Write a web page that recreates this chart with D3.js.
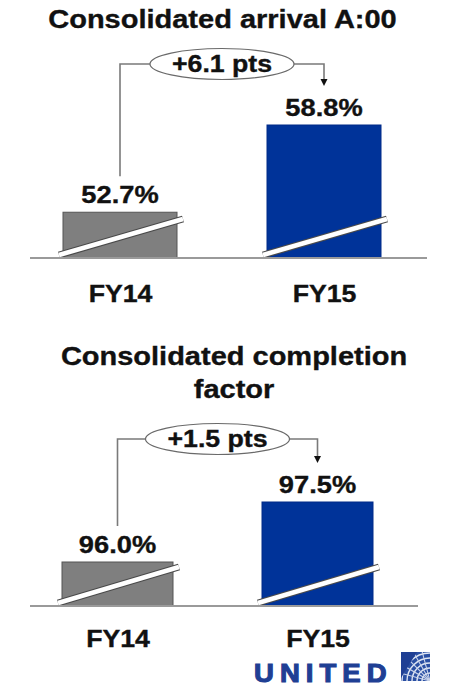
<!DOCTYPE html>
<html>
<head>
<meta charset="utf-8">
<script src="https://cdn.jsdelivr.net/npm/d3@7"></script>
<style>
  html, body { margin: 0; padding: 0; background: #ffffff; }
  svg { display: block; }
  text { font-family: "Liberation Sans", Arial, Helvetica, sans-serif; font-weight: bold; fill: #111; }
</style>
</head>
<body>
<div id="chart"></div>
<script>
// Fiscal years shown in both panels
const years = ["FY14", "FY15"];
// Consolidated arrival A:00 (%)
const arrivalValues = [52.7, 58.8];
// Consolidated completion factor (%)
const completionValues = [96.0, 97.5];
// Panel titles (one entry per line)
const arrivalTitle = ["Consolidated arrival A:00"];
const completionTitle = ["Consolidated completion", "factor"];

const W = 454, H = 700;
const STRETCH = 1.16;               // wide-set lettering
const barColors = ["#7f7f7f", "#003399"];
const barStrokes = ["#555555", "#002a88"];
const fmtPct = v => d3.format(".1f")(v) + "%";
const fmtDelta = v => (v >= 0 ? "+" : "") + d3.format(".1f")(v) + " pts";

const svg = d3.select("#chart").append("svg")
  .attr("width", W).attr("height", H);

function stretchedText(g, x, y, str, size, anchor = "middle") {
  return g.append("text")
    .attr("transform", `translate(${x},${y}) scale(${STRETCH},1)`)
    .attr("text-anchor", anchor)
    .attr("font-size", size)
    .style("stroke", "#111").style("stroke-width", 0.35)
    .text(str);
}

function drawPanel(cfg) {
  const g = svg.append("g");

  // titles
  cfg.title.forEach((line, i) => {
    stretchedText(g, cfg.titleX, cfg.titleY + i * 33, line, 25);
  });

  // scales: broken value axis starting at cfg.floor
  const x = d3.scalePoint().domain(years).range(cfg.xRange);
  const y = d3.scaleLinear().domain([cfg.floor, d3.max(cfg.values)]).range([cfg.base, cfg.top]);
  const bw = cfg.barWidth;

  const data = years.map((k, i) => ({ year: k, value: cfg.values[i], i }));

  // bars
  g.selectAll("rect.bar").data(data).join("rect")
    .attr("class", "bar")
    .attr("x", d => x(d.year) - bw / 2)
    .attr("y", d => y(d.value))
    .attr("width", bw)
    .attr("height", d => cfg.base - y(d.value))
    .attr("fill", d => barColors[d.i])
    .attr("stroke", d => barStrokes[d.i])
    .attr("stroke-width", 1);

  // axis-break stripe across each bar
  const brk = g.selectAll("g.brk").data(data).join("g").attr("class", "brk");
  const brkLine = sel => sel
    .attr("x1", d => x(d.year) - bw / 2 - 4)
    .attr("y1", cfg.base - 3)
    .attr("x2", d => x(d.year) + bw / 2 + 6)
    .attr("y2", cfg.base - 39);
  brk.append("line").call(brkLine).attr("stroke", "#4a4a4a").attr("stroke-width", 7);
  brk.append("line").call(brkLine).attr("stroke", "#ffffff").attr("stroke-width", 4.6);

  // baseline
  g.append("line")
    .attr("x1", cfg.axisX[0]).attr("x2", cfg.axisX[1])
    .attr("y1", cfg.base).attr("y2", cfg.base)
    .attr("stroke", "#9a9a9a").attr("stroke-width", 2);

  // category labels
  const ax = g.append("g")
    .attr("transform", `translate(0,${cfg.base})`)
    .call(d3.axisBottom(x).tickSize(0).tickPadding(0));
  ax.select(".domain").remove();
  ax.selectAll(".tick text")
    .attr("y", cfg.labelDy)
    .attr("dy", 0)
    .attr("font-size", 23)
    .attr("font-family", null)
    .attr("fill", "#111")
    .style("stroke", "#111").style("stroke-width", 0.35)
    .attr("transform", `scale(${STRETCH},1)`)
    .attr("text-anchor", "middle");

  // value labels
  data.forEach(d => {
    stretchedText(g, x(d.year), y(d.value) - 9, fmtPct(d.value), 23.5);
  });

  // change callout: bracket from first label, through ellipse, arrow to second
  const x0 = x(years[0]), x1 = x(years[1]);
  const cx = (x0 + x1) / 2, cy = cfg.calloutY;
  const leftEnd = y(data[0].value) - 9 - 27;
  const tipY = y(data[1].value) - 9 - 30;
  g.append("path")
    .attr("d", `M${x0},${leftEnd} V${cy} H${cx - 60}`)
    .attr("fill", "none").attr("stroke", "#7a7a7a").attr("stroke-width", 1.6);
  g.append("path")
    .attr("d", `M${cx + 60},${cy} H${x1} V${tipY - 6}`)
    .attr("fill", "none").attr("stroke", "#7a7a7a").attr("stroke-width", 1.6);
  g.append("path")
    .attr("d", `M${x1 - 3.5},${tipY - 7} L${x1 + 3.5},${tipY - 7} L${x1},${tipY} Z`)
    .attr("fill", "#111");
  g.append("ellipse")
    .attr("cx", cx).attr("cy", cy).attr("rx", 72).attr("ry", 15.5)
    .attr("fill", "#ffffff").attr("stroke", "#6a6a6a").attr("stroke-width", 1.2);
  stretchedText(g, cx, cy + 8, fmtDelta(data[1].value - data[0].value), 23);
}

drawPanel({
  title: arrivalTitle, titleX: 222.5, titleY: 28,
  values: arrivalValues, floor: 49.5,
  xRange: [120, 324], barWidth: 114,
  base: 258, top: 125, axisX: [30, 427],
  labelDy: 44, calloutY: 64
});

drawPanel({
  title: completionTitle, titleX: 234, titleY: 365,
  values: completionValues, floor: 94.9,
  xRange: [117.5, 317.5], barWidth: 111,
  base: 606, top: 502, axisX: [30, 418],
  labelDy: 41, calloutY: 439
});

// corporate logotype
const logo = svg.append("g");
logo.append("text")
  .attr("transform", `translate(254,682) scale(1.1,1)`)
  .attr("font-size", 25)
  .attr("letter-spacing", 5.5)
  .style("fill", "#1f3f94")
  .style("stroke", "#1f3f94").style("stroke-width", 1.1)
  .text("UNITED");

// globe mark
const gx = 401, gy = 652, gs = 29;
const defs = svg.append("defs");
defs.append("clipPath").attr("id", "globeClip")
  .append("rect").attr("x", gx).attr("y", gy).attr("width", gs).attr("height", gs);
const globe = logo.append("g").attr("clip-path", "url(#globeClip)");
globe.append("rect").attr("x", gx).attr("y", gy).attr("width", gs).attr("height", gs).attr("fill", "#2a4fa3");
const arcs = d3.range(6);
globe.selectAll("circle.lat").data(arcs).join("circle")
  .attr("class", "lat")
  .attr("cx", gx + gs).attr("cy", gy + gs)
  .attr("r", d => 8 + d * 5)
  .attr("fill", "none").attr("stroke", "#dfe6f3").attr("stroke-width", 1.4);
globe.selectAll("line.lon").data(d3.range(5)).join("line")
  .attr("class", "lon")
  .attr("x1", gx + gs).attr("y1", gy + gs)
  .attr("x2", d => gx + gs - 40 * Math.cos((d + 1) * Math.PI / 12))
  .attr("y2", d => gy + gs - 40 * Math.sin((d + 1) * Math.PI / 12))
  .attr("stroke", "#c9d3ea").attr("stroke-width", 1.1);
globe.append("path")
  .attr("d", `M${gx},${gy} H${gx + gs * 0.55} L${gx},${gy + gs * 0.9} Z`)
  .attr("fill", "#1f3f94");
</script>
</body>
</html>
